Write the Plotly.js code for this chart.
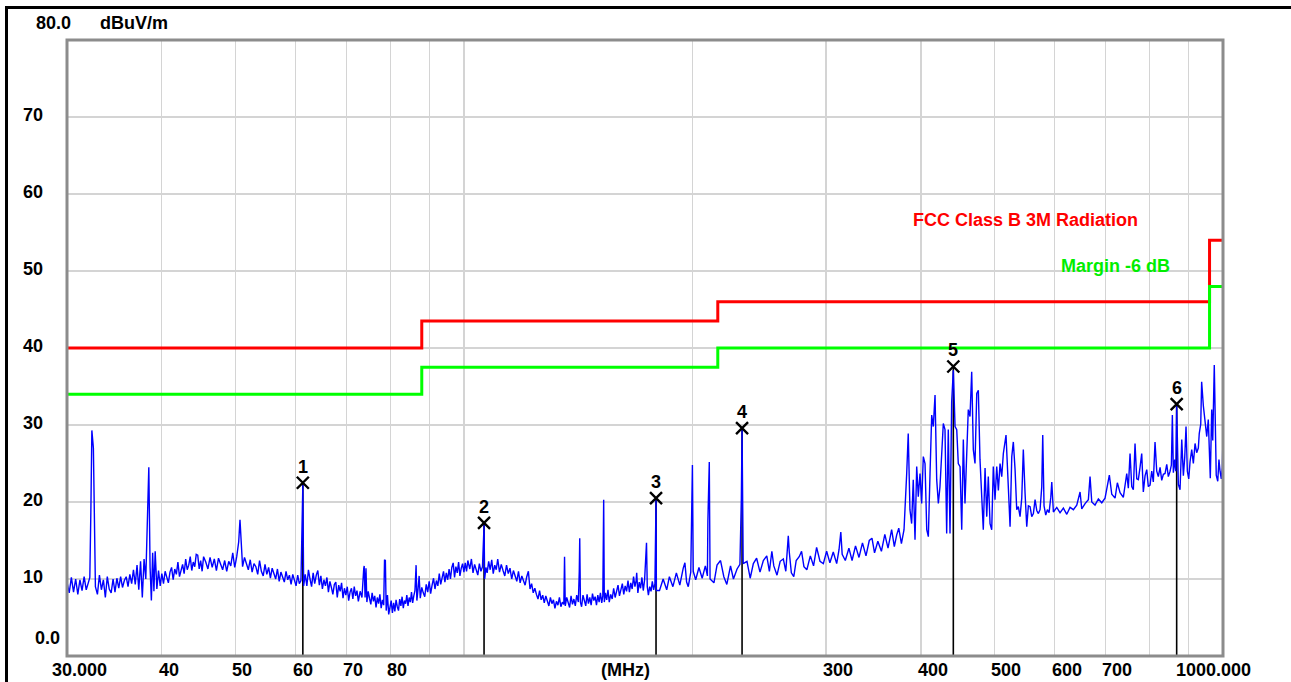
<!DOCTYPE html>
<html><head><meta charset="utf-8">
<script src="https://cdn.plot.ly/plotly-3.0.1.min.js"></script>
<style>html,body{margin:0;padding:0;background:#fff;overflow:hidden;} #chart{width:1291px;height:682px;}</style>
</head><body><div id="chart"></div>
<script>
// ---------- axis definitions ----------
const freqMin = 30, freqMax = 1000;
const levelMin = 0, levelMax = 80;
const xGridVals = [40, 50, 60, 70, 80, 90, 100, 200, 300, 400, 500, 600, 700, 800, 900];
const xTickVals = [30, 40, 50, 60, 70, 80, 300, 400, 500, 600, 700, 1000];
const xTickText = ['30.000', '40', '50', '60', '70', '80', '300', '400', '500', '600', '700', '1000.000'];
const yGridVals = [10, 20, 30, 40, 50, 60, 70];
const yTickVals = [0, 10, 20, 30, 40, 50, 60, 70, 80];
const yTickText = ['0.0', '10', '20', '30', '40', '50', '60', '70', '80.0'];
const unitX = '(MHz)';
const unitY = 'dBuV/m';

// ---------- limit lines ----------
const limitName = 'FCC Class B 3M Radiation';
const limitFreq = [30, 88, 216, 960, 1000];
const limitLevel = [40, 43.5, 46, 54, 54];
const marginName = 'Margin -6 dB';
const marginFreq = [30, 88, 216, 960, 1000];
const marginLevel = [34, 37.5, 40, 48, 48];

// ---------- markers ----------
const markerNo = ['1', '2', '3', '4', '5', '6'];
const markerFreq = [61.35, 106.3, 179.1, 232.5, 441.3, 868.9];
const markerLevel = [22.5, 17.3, 20.5, 29.6, 37.6, 32.7];

// ---------- measured scan [MHz, dBuV/m] ----------
const scan30to40 = [[30.0,9.6],[30.2,8.2],[30.4,10.2],[30.6,8.3],[30.8,10.0],[31.0,8.0],[31.2,9.9],[31.4,8.5],[31.6,10.3],[31.8,8.6],[32.0,9.5],[32.15,10.2],[32.25,18.6],[32.35,29.3],[32.5,27.0],[32.6,16.4],[32.7,9.0],[32.9,8.0],[33.1,10.5],[33.3,8.6],[33.5,9.9],[33.7,7.6],[33.9,10.3],[34.1,8.7],[34.3,8.2],[34.5,10.0],[34.7,8.3],[34.9,10.1],[35.1,8.8],[35.3,10.3],[35.5,8.9],[35.7,9.8],[35.9,10.3],[36.1,9.0],[36.3,10.6],[36.5,9.4],[36.7,11.2],[36.9,9.3],[37.1,11.8],[37.3,8.6],[37.5,12.3],[37.7,7.6],[37.9,12.6],[38.1,10.0],[38.3,18.6],[38.45,24.5],[38.6,11.5],[38.75,7.2],[38.9,13.4],[39.05,8.4],[39.2,13.6],[39.4,8.7],[39.6,11.1],[39.8,9.1],[40.0,10.7]];
const scan40to62 = [[40.2,9.4],[40.4,11.0],[40.6,10.2],[40.8,9.5],[41.0,10.9],[41.2,11.5],[41.4,9.9],[41.6,11.3],[41.8,10.6],[42.0,12.2],[42.2,10.3],[42.4,11.0],[42.6,11.9],[42.8,10.7],[43.0,12.6],[43.2,11.2],[43.4,11.8],[43.6,12.9],[43.8,11.1],[44.0,12.2],[44.2,11.6],[44.4,13.2],[44.6,13.1],[44.8,11.3],[45.0,12.4],[45.2,11.0],[45.4,12.9],[45.7,12.2],[46.0,11.3],[46.3,12.8],[46.6,11.5],[46.9,12.6],[47.2,11.1],[47.5,12.7],[47.8,11.9],[48.1,11.2],[48.4,12.4],[48.7,11.0],[49.0,12.3],[49.3,11.7],[49.6,13.4],[49.9,11.5],[50.2,12.9],[50.5,14.8],[50.7,17.7],[50.9,13.8],[51.1,11.6],[51.4,12.8],[51.7,11.9],[52.0,11.2],[52.3,12.5],[52.6,10.9],[52.9,12.0],[53.2,11.6],[53.5,10.6],[53.8,12.4],[54.1,11.0],[54.4,10.4],[54.7,11.9],[55.0,10.6],[55.3,11.5],[55.6,10.1],[55.9,11.4],[56.2,10.8],[56.5,10.0],[56.8,11.3],[57.1,9.7],[57.4,10.9],[57.7,10.2],[58.0,9.6],[58.3,11.0],[58.6,9.9],[58.9,10.5],[59.2,9.3],[59.5,10.6],[59.8,9.8],[60.1,9.1],[60.4,10.5],[60.7,9.4],[61.0,9.8],[61.2,15.7],[61.35,22.2],[61.5,9.1]];
const scan62to100 = [[61.8,10.6],[62.1,9.1],[62.4,11.2],[62.7,10.0],[63.0,9.0],[63.3,10.8],[63.6,9.4],[63.9,10.5],[64.2,11.1],[64.5,9.2],[64.8,10.4],[65.1,8.7],[65.4,9.9],[65.7,9.1],[66.0,10.2],[66.3,8.3],[66.6,9.7],[66.9,8.9],[67.2,8.0],[67.5,9.3],[67.8,9.6],[68.1,7.6],[68.4,9.2],[68.7,8.4],[69.0,9.5],[69.3,7.5],[69.6,8.8],[69.9,7.9],[70.2,9.0],[70.5,7.2],[70.8,8.3],[71.1,8.8],[71.4,7.4],[71.7,9.0],[72.0,7.8],[72.3,8.5],[72.6,7.1],[73.0,8.4],[73.4,7.6],[73.8,11.4],[73.9,11.7],[74.1,7.6],[74.3,11.4],[74.5,7.0],[74.8,8.4],[75.1,7.5],[75.4,6.7],[75.7,8.2],[76.0,7.1],[76.3,7.8],[76.6,6.3],[76.9,7.6],[77.2,6.8],[77.5,8.0],[77.8,6.2],[78.1,7.3],[78.4,6.6],[78.6,12.5],[78.8,12.4],[79.0,5.9],[79.3,7.9],[79.6,5.4],[79.9,6.6],[80.2,7.2],[80.5,5.6],[80.8,6.9],[81.1,5.8],[81.4,7.3],[81.7,6.4],[82.0,5.9],[82.3,7.4],[82.6,6.5],[82.9,7.7],[83.2,6.2],[83.5,7.2],[83.8,6.8],[84.1,7.9],[84.4,6.5],[84.7,7.6],[85.0,7.0],[85.3,8.3],[85.6,6.9],[85.9,7.8],[86.2,8.5],[86.5,11.8],[86.7,7.2],[87.0,8.6],[87.3,10.4],[87.6,7.5],[88.0,8.9],[88.4,8.2],[88.8,7.7],[89.2,9.3],[89.6,8.3],[90.0,9.7],[90.4,8.1],[90.8,9.2],[91.2,10.1],[91.6,8.7],[92.0,9.8],[92.4,9.1],[92.8,10.7],[93.2,9.3],[93.6,10.2],[94.0,11.0],[94.4,9.6],[94.8,10.8],[95.2,9.9],[95.6,11.3],[96.0,10.0],[96.4,11.5],[96.8,12.1],[97.2,10.2],[97.6,11.6],[98.0,10.8],[98.4,12.2],[98.8,10.4],[99.2,11.4],[99.6,12.0],[100.0,10.9]];
const scan100to180 = [[100.4,12.1],[100.8,11.0],[101.2,12.4],[101.8,11.3],[102.3,12.6],[102.8,10.8],[103.3,11.9],[103.8,11.2],[104.3,10.5],[104.8,12.0],[105.3,11.0],[105.8,11.6],[106.1,14.0],[106.3,17.0],[106.5,10.0],[106.9,11.5],[107.3,10.8],[107.8,12.3],[108.3,11.2],[108.8,12.5],[109.3,10.7],[109.8,11.8],[110.3,11.2],[110.8,12.6],[111.4,10.9],[112.0,11.9],[112.6,11.1],[113.2,10.4],[113.8,11.8],[114.4,10.7],[115.0,11.4],[115.6,10.0],[116.2,11.1],[116.8,10.3],[117.4,9.7],[118.0,11.0],[118.6,9.5],[119.2,10.4],[119.8,9.9],[120.4,9.2],[121.0,10.3],[121.6,11.0],[122.2,8.7],[122.8,9.4],[123.4,8.2],[124.0,8.8],[124.6,8.0],[125.2,7.4],[125.8,8.5],[126.4,7.3],[127.0,7.9],[127.6,6.9],[128.2,7.8],[128.8,7.1],[129.4,6.5],[130.0,7.6],[130.6,6.8],[131.2,7.3],[131.8,6.2],[132.4,7.1],[133.0,6.6],[133.6,7.6],[134.2,6.4],[134.8,7.0],[135.4,6.7],[135.7,12.9],[136.0,6.5],[136.6,7.6],[137.2,7.0],[137.8,6.3],[138.4,7.8],[139.0,6.7],[139.6,7.4],[140.2,6.5],[140.8,7.9],[141.5,7.0],[141.9,11.0],[142.1,15.3],[142.4,7.0],[142.9,6.4],[143.5,7.9],[144.1,7.0],[144.7,6.5],[145.3,8.0],[145.9,6.8],[146.5,7.6],[147.1,6.6],[147.7,8.1],[148.3,7.2],[148.9,7.7],[149.5,6.6],[150.1,7.9],[150.7,7.0],[151.3,8.2],[151.9,6.9],[152.4,7.8],[152.8,20.3],[153.1,7.0],[153.6,8.2],[154.2,7.3],[154.8,8.6],[155.4,7.0],[156.1,8.0],[156.8,7.4],[157.5,8.8],[158.2,7.6],[158.9,8.3],[159.6,9.2],[160.3,7.8],[161.0,8.6],[161.7,9.4],[162.4,8.0],[163.1,9.1],[163.8,8.4],[164.5,9.8],[165.2,8.3],[165.9,9.5],[166.6,8.7],[167.3,10.3],[168.0,9.0],[168.6,9.8],[168.9,10.8],[169.5,8.2],[170.2,9.6],[170.9,8.8],[171.6,10.2],[172.3,8.5],[173.0,9.9],[173.6,12.5],[174.0,14.7],[174.4,9.0],[175.0,7.9],[175.7,9.0],[176.4,8.4],[177.1,9.7],[177.8,8.6],[178.5,9.4],[178.9,14.4],[179.1,20.3],[179.3,8.5]];
const scan180to380 = [[181,8.5],[183,10.0],[185,8.6],[186.5,10.3],[188.5,9.0],[190.5,10.8],[192.5,9.2],[194.5,11.4],[195.5,12.1],[196.5,9.6],[197.5,9.0],[199,10.9],[199.6,17.9],[200,24.8],[200.5,11.0],[202,9.9],[204,11.5],[206,10.1],[208,11.7],[209.3,10.4],[209.6,17.5],[210.5,25.2],[211,10.0],[213.5,9.5],[215.5,11.8],[217.8,12.4],[220,10.3],[222,9.3],[224.5,11.7],[226.5,10.0],[229,11.3],[231,11.9],[232,20.5],[232.5,29.4],[233.3,12.0],[236,12.3],[238.3,10.1],[240.6,12.0],[243,12.7],[245.5,10.9],[248,12.4],[250.6,13.0],[252.6,11.0],[254.5,13.6],[256,11.7],[258.5,10.5],[261,12.3],[263.5,12.6],[265.5,11.0],[267.5,15.6],[268.3,13.5],[270,10.8],[272,10.3],[274,12.4],[276.5,12.9],[278.5,13.6],[280.5,11.6],[283,11.2],[286,13.0],[288.8,11.7],[291.5,14.1],[294.5,12.3],[297.5,12.0],[300.5,13.6],[303.5,12.1],[306.6,13.5],[309.8,12.0],[312,13.8],[313.7,16.1],[315,13.2],[318,12.4],[321.5,14.0],[324.6,12.4],[328,14.3],[331.5,12.8],[335,14.7],[338.6,13.0],[342,15.0],[344.8,15.3],[347.5,13.4],[351,14.9],[354.8,13.6],[358.5,15.8],[362,14.0],[366,16.4],[369,14.2],[371.6,15.7],[374,16.6],[377,14.6],[380,16.4]];
const scan380to1000 = [[383.1,23.7],[384.9,28.9],[386.9,19.0],[388.9,17.2],[390.8,22.9],[392.9,15.1],[394.9,24.6],[396.8,20.7],[398.9,23.7],[400.9,19.8],[402.9,25.9],[405.0,25.0],[407.1,16.4],[409.1,15.5],[411.2,23.7],[413.3,31.3],[415.3,29.8],[417.5,33.9],[419.6,22.9],[421.7,19.8],[423.8,22.0],[426.0,27.2],[428.1,30.2],[430.3,29.4],[432.5,15.9],[434.6,29.4],[436.9,15.9],[439.1,33.0],[441.3,37.1],[443.6,29.8],[445.9,29.4],[448.0,25.0],[450.4,24.6],[452.7,16.4],[454.9,28.1],[457.2,19.8],[459.6,27.2],[461.8,32.0],[464.2,31.1],[466.6,36.9],[468.9,26.8],[471.3,25.0],[473.8,34.1],[476.1,34.5],[478.5,25.5],[481.0,19.8],[483.3,16.4],[485.9,24.4],[488.4,18.1],[490.7,23.3],[493.3,17.2],[495.8,16.4],[498.2,24.6],[500.8,20.3],[503.4,24.6],[505.9,21.5],[508.5,25.0],[511.1,23.3],[513.6,26.3],[517.8,28.7],[521.5,20.3],[524.2,16.8],[526.9,25.9],[529.4,27.8],[532.2,24.2],[534.9,19.0],[537.5,19.4],[540.3,18.1],[543.1,20.5],[545.7,26.8],[548.6,21.1],[551.4,16.8],[554.1,19.5],[557.0,19.4],[559.8,18.1],[562.6,18.5],[565.5,20.3],[568.4,18.9],[571.2,18.5],[574.1,19.0],[577.1,22.0],[578.8,28.7],[581.1,19.5],[584.1,18.3],[587.0,19.0],[590.0,18.6],[593.1,20.6],[594.9,22.6],[597.8,18.7],[604.0,19.3],[610.0,18.6],[616.2,19.2],[622.6,18.4],[628.8,19.3],[635.2,19.0],[641.7,19.6],[648.2,21.3],[651.5,19.1],[658.1,19.8],[664.7,20.3],[668.1,23.3],[671.6,20.0],[678.3,19.6],[685.2,20.4],[692.3,19.9],[699.2,20.5],[708.4,23.5],[713.6,21.0],[720.8,20.5],[725.8,22.5],[731.8,21.2],[739.1,20.6],[746.8,23.7],[750.4,21.8],[754.3,26.3],[758.2,22.0],[761.9,21.6],[765.8,27.6],[769.8,23.0],[773.5,22.9],[777.5,24.5],[781.5,26.3],[785.3,21.3],[789.4,23.4],[793.5,24.2],[797.3,22.0],[801.5,22.2],[805.6,24.0],[809.5,22.6],[813.7,27.8],[817.9,24.0],[821.9,23.3],[826.2,24.5],[830.4,22.8],[834.5,23.6],[838.8,23.7],[843.1,24.9],[847.2,23.3],[851.6,24.0],[855.0,24.8],[857.6,31.3],[860.2,23.8],[863.8,25.5],[866.5,24.0],[868.9,32.5],[873.3,22.3],[877.8,21.6],[882.4,28.1],[886.7,23.4],[890.4,25.8],[893.9,29.8],[897.5,24.0],[901.3,23.0],[904.8,25.2],[909.5,26.8],[914.0,25.0],[918.7,27.6],[923.2,26.4],[927.9,27.0],[930.5,28.9],[934.7,30.1],[937.3,35.6],[942.1,32.5],[946.7,30.7],[951.9,28.5],[956.4,30.7],[959.4,27.0],[962.2,23.1],[966.3,32.0],[969.4,28.0],[973.9,37.8],[977.0,27.5],[979.7,23.5],[984.2,22.7],[987.8,25.5],[991.1,24.0],[994.8,23.0],[998.0,24.5],[1000,28.7]];

// ---------- build ----------
const scan = [].concat(scan30to40, scan40to62, scan62to100, scan100to180, scan180to380, scan380to1000);
const scanFreq = scan.map(p => p[0]);
const scanLevel = scan.map(p => p[1]);

// plot-area geometry (pixels)
const W = 1291, H = 682;
const M = {l: 67, r: 68, t: 40, b: 26};
const plotW = W - M.l - M.r, plotH = H - M.t - M.b;
const px2x = px => (px - M.l) / plotW;
const py2y = py => (H - M.b - py) / plotH;

const FONT = '"Liberation Sans", Arial, sans-serif';
const bold = s => '<b>' + s + '</b>';

const stemX = [], stemY = [];
markerFreq.forEach((f, i) => { stemX.push(f, f, null); stemY.push(levelMin, markerLevel[i], null); });

const traces = [
  {x: stemX, y: stemY, type: 'scatter', mode: 'lines', line: {color: '#000000', width: 1.6}, hoverinfo: 'skip'},
  {x: scanFreq, y: scanLevel, type: 'scatter', mode: 'lines', line: {color: '#0000ff', width: 1.4}, hoverinfo: 'skip'},
  {x: limitFreq, y: limitLevel, type: 'scatter', mode: 'lines', line: {color: '#ff0000', width: 3, shape: 'hv'}, hoverinfo: 'skip'},
  {x: marginFreq, y: marginLevel, type: 'scatter', mode: 'lines', line: {color: '#00ff00', width: 3, shape: 'hv'}, hoverinfo: 'skip'},
  {x: markerFreq, y: markerLevel, type: 'scatter', mode: 'markers',
   marker: {symbol: 'x-thin-open', size: 12, color: '#000000', line: {color: '#000000', width: 2.4}}, hoverinfo: 'skip'}
];

const annotations = [];
// x tick labels
xTickVals.forEach((v, i) => {
  let anchor = 'left', shift = -5;
  if (i === 0) { anchor = 'left'; shift = -17; }
  if (i === xTickVals.length - 1) { anchor = 'right'; shift = 30; }
  annotations.push({x: Math.log10(v), xref: 'x', y: py2y(670), yref: 'paper', text: bold(xTickText[i]),
    showarrow: false, xanchor: anchor, yanchor: 'middle', xshift: shift,
    font: {family: FONT, size: 18, color: '#000'}});
});
annotations.push({x: px2x(625), xref: 'paper', y: py2y(670), yref: 'paper', text: bold(unitX),
  showarrow: false, xanchor: 'center', yanchor: 'middle', font: {family: FONT, size: 18, color: '#000'}});
// y tick labels
yTickVals.forEach((v, i) => {
  let xpx = 45, ys = 2;
  if (v === levelMin) { xpx = 62; ys = 18; }
  if (v === levelMax) { xpx = 73; ys = 17; }
  annotations.push({x: px2x(xpx), xref: 'paper', y: v, yref: 'y', text: bold(yTickText[i]),
    showarrow: false, xanchor: 'right', yanchor: 'middle', yshift: ys,
    font: {family: FONT, size: 18, color: '#000'}});
});
annotations.push({x: px2x(98), xref: 'paper', y: levelMax, yref: 'y', yshift: 17, text: bold(unitY),
  showarrow: false, xanchor: 'left', yanchor: 'middle', font: {family: FONT, size: 18, color: '#000'}});
// limit names
annotations.push({x: px2x(911), xref: 'paper', y: py2y(220), yref: 'paper', text: bold(limitName),
  showarrow: false, xanchor: 'left', yanchor: 'middle', font: {family: FONT, size: 18, color: '#ff0000'}});
annotations.push({x: px2x(1059), xref: 'paper', y: py2y(266), yref: 'paper', text: bold(marginName),
  showarrow: false, xanchor: 'left', yanchor: 'middle', font: {family: FONT, size: 18, color: '#00ee00'}});
// marker numbers
markerFreq.forEach((f, i) => {
  annotations.push({x: Math.log10(f), xref: 'x', y: markerLevel[i], yref: 'y', yshift: 16, text: markerNo[i],
    showarrow: false, xanchor: 'center', yanchor: 'middle', font: {family: FONT, size: 18, color: '#000', weight: 'bold'}});
});

const shapes = [
  {type: 'rect', xref: 'paper', yref: 'paper', x0: 0, x1: 1, y0: 0, y1: 1, line: {color: '#8c8c8c', width: 3}, layer: 'above'},
  {type: 'line', xref: 'paper', yref: 'paper', x0: px2x(5), x1: px2x(W), y0: py2y(7.5), y1: py2y(7.5), line: {color: '#000', width: 3}},
  {type: 'line', xref: 'paper', yref: 'paper', x0: px2x(6.5), x1: px2x(6.5), y0: py2y(6), y1: py2y(H), line: {color: '#000', width: 3}}
];

const layout = {
  width: W, height: H,
  margin: M,
  paper_bgcolor: '#ffffff', plot_bgcolor: '#ffffff',
  showlegend: false,
  hovermode: false,
  xaxis: {type: 'log', range: [Math.log10(freqMin), Math.log10(freqMax)], tickvals: xGridVals,
    showticklabels: false, ticks: '', showgrid: true, gridcolor: '#d4d4d4', gridwidth: 1.3,
    zeroline: false, showline: false, fixedrange: true},
  yaxis: {range: [levelMin, levelMax], tickvals: yGridVals, showticklabels: false, ticks: '',
    showgrid: true, gridcolor: '#d4d4d4', gridwidth: 1.3, zeroline: false, showline: false, fixedrange: true},
  annotations: annotations,
  shapes: shapes
};

Plotly.newPlot('chart', traces, layout, {displayModeBar: false, staticPlot: true});
</script>
</body></html>
